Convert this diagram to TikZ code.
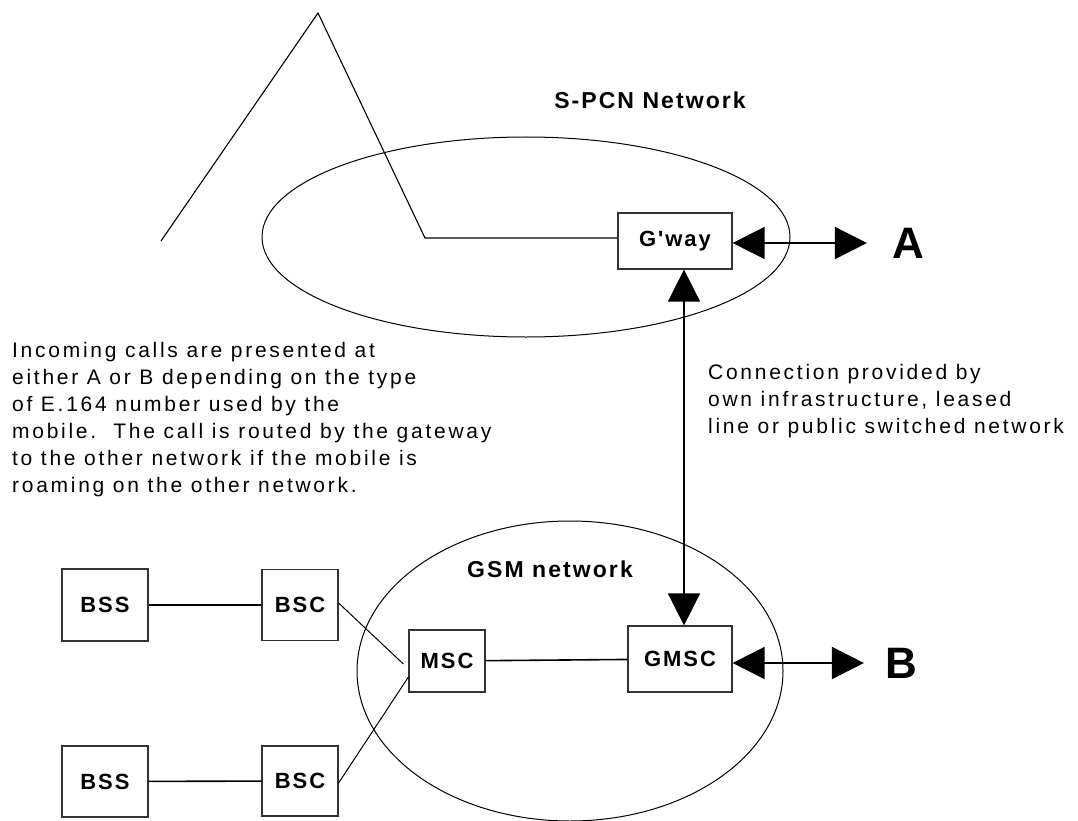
\documentclass[tikz,border=0pt]{standalone}
\usepackage{fontspec}
\setmainfont{Liberation Sans}
\newfontfamily\spacedsans{Liberation Sans}[LetterSpace=13]
\newfontfamily\labelsans{Liberation Sans}[LetterSpace=9]
\usetikzlibrary{arrows.meta,calc}

\newcommand\notefont{\spacedsans\fontsize{21}{27}\selectfont}
\newcommand\boxfont{\labelsans\bfseries\fontsize{22}{26}\selectfont}
\newcommand\netfont{\labelsans\bfseries\fontsize{23}{27}\selectfont}
\newcommand\pointfont{\labelsans\bfseries\fontsize{44}{48}\selectfont}

\tikzset{
  unitbox/.style={draw=black!80, line width=1.2pt, font=\boxfont, inner sep=0pt},
  link/.style={line width=1.6pt},
  thinlink/.style={line width=1pt},
  biarrow/.style={line width=1.6pt,
    {Triangle[length=32pt,width=32pt]}-{Triangle[length=32pt,width=32pt]}},
  netlabel/.style={font=\netfont, inner sep=0pt},
  endpoint/.style={font=\pointfont, inner sep=0pt},
  note/.style={align=left, anchor=north west, inner sep=0pt, font=\notefont},
}

\begin{document}
\begin{tikzpicture}[x=1pt, y=-1pt]
  \useasboundingbox (0,0) rectangle (1078,821);

  % network clouds
  \draw[line width=1pt] (526,237) ellipse [x radius=264, y radius=100];
  \draw[line width=1pt] (570,671) ellipse [x radius=213, y radius=150];

  \node[netlabel] (spcn) at (650,100) {S-PCN Network};
  \node[netlabel] (gsm)  at (550,569) {GSM network};

  % S-PCN side
  \node[unitbox, minimum width=114pt, minimum height=56pt] (gway) at (675,241) {G'way};
  \coordinate (rayA) at (161,241);
  \coordinate (peak) at (318,13);
  \coordinate (bend) at (425,238);
  \draw[line width=1.1pt] (rayA) -- (peak) -- (bend) -- (bend -| gway.west);

  % GSM side
  \node[unitbox, minimum width=104pt, minimum height=66pt] (gmsc) at (680,659) {GMSC};
  \node[unitbox, minimum width=76pt, minimum height=62pt] (msc) at (447,661) {MSC};
  \node[unitbox, minimum width=86pt, minimum height=72pt] (bss1) at (105,605) {BSS};
  \node[unitbox, minimum width=76pt, minimum height=71pt] (bsc1) at (300,605) {BSC};
  \node[unitbox, minimum width=86pt, minimum height=71pt] (bss2) at (105,781.5) {BSS};
  \node[unitbox, minimum width=76pt, minimum height=70pt] (bsc2) at (300,781) {BSC};

  \draw[link] (bss1) -- (bsc1);
  \draw[link] (bss2) -- (bsc2);
  \draw[thinlink] ($(bsc1.east)+(0,-2)$) -- ($(msc.west)+(-5,3)$);
  \draw[thinlink] ($(bsc2.east)+(0,2)$) -- ($(msc.west)+(0,16)$);
  \draw[link] (msc) -- (gmsc);

  % external access points
  \node[endpoint] (ptA) at (908,243) {A};
  \node[endpoint] (ptB) at (901,663) {B};
  \draw[biarrow] (gway.east |- 0,243) -- ($(ptA.west)+(-25,0)$);
  \draw[biarrow] (gmsc.east |- 0,663) -- ($(ptB.west)+(-21,0)$);

  % inter-network connection
  \draw[biarrow] ($(gway.south)+(9,0)$) -- ($(gmsc.north)+(4,0)$);

  % explanatory notes
  \node[note] (routing) at (12,342) {Incoming calls are presented at\\
    either A or B depending on the type\\
    of E.164 number used by the\\
    mobile.\ \ The call is routed by the gateway\\
    to the other network if the mobile is\\
    roaming on the other network.};
  \node[note] (conn) at (708,364) {Connection provided by\\
    own infrastructure, leased\\
    line or public switched network};
\end{tikzpicture}
\end{document}
